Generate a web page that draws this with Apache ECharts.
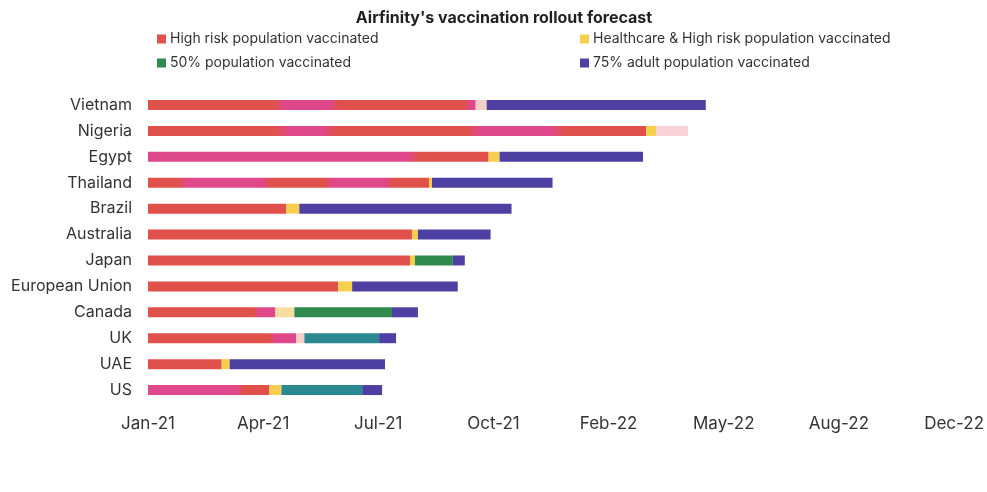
<!DOCTYPE html>
<html>
<head>
<meta charset="utf-8">
<title>Airfinity's vaccination rollout forecast</title>
<script src="https://cdn.jsdelivr.net/npm/echarts@6/dist/echarts.min.js"></script>
<style>
  html, body { margin: 0; padding: 0; background: #ffffff; }
  #chart { width: 987px; height: 492px; }
</style>
</head>
<body>
<div id="chart"></div>
<script>
// Countries, top to bottom
const countries = ['Vietnam', 'Nigeria', 'Egypt', 'Thailand', 'Brazil', 'Australia',
  'Japan', 'European Union', 'Canada', 'UK', 'UAE', 'US'];

// Time axis tick labels (one axis step each)
const tickLabels = ['Jan-21', 'Apr-21', 'Jul-21', 'Oct-21', 'Feb-22', 'May-22', 'Aug-22', 'Dec-22'];

// Length of each milestone phase, in axis steps, starting at Jan-21
const highRisk   = [2.846, 4.325, 2.958, 2.440, 1.202, 2.292, 2.275, 1.652, 1.107, 1.289, 0.640, 1.055];
const healthcare = [0.095, 0.087, 0.095, 0.026, 0.112, 0.052, 0.043, 0.121, 0.164, 0.069, 0.069, 0.104];
const halfPop    = [0,     0,     0,     0,     0,     0,     0.329, 0,     0.848, 0.649, 0,     0.701];
const adult75    = [1.903, 0.277, 1.246, 1.047, 1.843, 0.631, 0.104, 0.917, 0.225, 0.147, 1.349, 0.173];

const seriesNames = [
  'High risk population vaccinated',
  'Healthcare & High risk population vaccinated',
  '50% population vaccinated',
  '75% adult population vaccinated'
];

// Palette
const RED = '#e0514b', PINK = '#e0488c', YELLOW = '#f6cf4e', GREEN = '#2f8a4e',
      TEAL = '#2b8790', PURPLE = '#4d40a2', PALE_PINK = '#f7d3d8',
      PALE_YELLOW = '#f5dda0', PALE_BLUSH = '#f4cfc8';

// Print tint bands within the high-risk bars (axis steps from Jan-21)
const tintBands = {
  'Vietnam':  [[1.14, 1.62], [2.79, 2.85]],
  'Nigeria':  [[1.17, 1.57], [2.83, 3.56]],
  'Egypt':    [[0, 2.30]],
  'Thailand': [[0.30, 1.03], [1.57, 2.09]],
  'Canada':   [[0.94, 1.11]],
  'UK':       [[1.08, 1.29]],
  'US':       [[0, 0.80]]
};
const paleHealthcare = { 'Vietnam': PALE_BLUSH, 'Canada': PALE_YELLOW, 'UK': PALE_BLUSH };
const tealHalf = { 'UK': true, 'US': true };
const paleAdult = { 'Nigeria': PALE_PINK };

function highRiskColor(p) {
  const bands = tintBands[p.name];
  const len = highRisk[p.dataIndex];
  if (!bands || !len) return RED;
  const stops = [];
  const soft = 0.015;
  let cursor = 0;
  stops.push({ offset: 0, color: bands[0][0] <= 0 ? PINK : RED });
  bands.forEach(function (b) {
    const a = Math.max(0, b[0] / len), e = Math.min(1, b[1] / len);
    if (a > 0) {
      stops.push({ offset: Math.max(cursor, a - soft), color: RED });
      stops.push({ offset: Math.min(1, a + soft), color: PINK });
    }
    stops.push({ offset: Math.max(0, e - soft), color: PINK });
    if (e < 1) stops.push({ offset: Math.min(1, e + soft), color: RED });
    cursor = e;
  });
  stops.push({ offset: 1, color: cursor >= 1 ? PINK : RED });
  return new echarts.graphic.LinearGradient(0, 0, 1, 0, stops);
}

const chart = echarts.init(document.getElementById('chart'), null, { renderer: 'canvas' });

const FONT = 'Inter, "Noto Sans", sans-serif';
const BAR_W = 10;

function barSeries(name, data, color) {
  return {
    name: name,
    type: 'bar',
    stack: 'rollout',
    barWidth: BAR_W,
    data: data,
    itemStyle: { color: color },
    emphasis: { disabled: true },
    animation: false
  };
}

function legendColumn(left, items) {
  return {
    orient: 'vertical',
    left: left,
    top: 31,
    padding: 0,
    itemWidth: 9,
    itemHeight: 9,
    itemGap: 8,
    icon: 'rect',
    selectedMode: false,
    textStyle: { fontFamily: FONT, fontSize: 14, color: '#333', lineHeight: 16, padding: [0, 0, 0, -1] },
    data: items
  };
}

chart.setOption({
  animation: false,
  textStyle: { fontFamily: FONT },
  title: {
    text: "Airfinity's vaccination rollout forecast",
    left: 499,
    top: 5,
    textAlign: 'center',
    textStyle: { fontFamily: FONT, fontSize: 16, fontWeight: 'bold', color: '#1f1f1f' }
  },
  legend: [
    legendColumn(157, [
      { name: seriesNames[0], itemStyle: { color: RED } },
      { name: seriesNames[2], itemStyle: { color: GREEN } }
    ]),
    legendColumn(580, [
      { name: seriesNames[1], itemStyle: { color: YELLOW } },
      { name: seriesNames[3], itemStyle: { color: PURPLE } }
    ])
  ],
  grid: { left: 148, right: 28, top: 92, bottom: 89, containLabel: false },
  xAxis: {
    type: 'value',
    min: 0,
    max: tickLabels.length - 1,
    interval: 1,
    axisLine: { show: false },
    axisTick: { show: false },
    splitLine: { show: false },
    axisLabel: {
      margin: 12,
      fontSize: 17,
      color: '#333',
      fontFamily: FONT,
      formatter: function (v) { return tickLabels[Math.round(v)] || ''; }
    }
  },
  yAxis: {
    type: 'category',
    inverse: true,
    data: countries,
    axisLine: { show: false },
    axisTick: { show: false },
    splitLine: { show: false },
    axisLabel: { margin: 16, fontSize: 16, color: '#333', fontFamily: FONT }
  },
  series: [
    barSeries(seriesNames[0], highRisk, highRiskColor),
    barSeries(seriesNames[1], healthcare, function (p) { return paleHealthcare[p.name] || YELLOW; }),
    barSeries(seriesNames[2], halfPop, function (p) { return tealHalf[p.name] ? TEAL : GREEN; }),
    barSeries(seriesNames[3], adult75, function (p) { return paleAdult[p.name] || PURPLE; })
  ]
});
</script>
</body>
</html>
